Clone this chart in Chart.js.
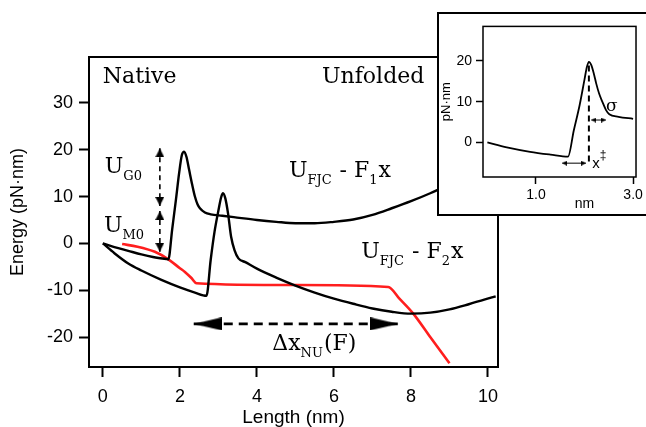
<!DOCTYPE html>
<html>
<head>
<meta charset="utf-8">
<script src="https://cdn.jsdelivr.net/npm/chart.js@4"></script>
<style>
  html, body { margin: 0; padding: 0; background: #fff; overflow: hidden; }
  #wrap { position: relative; width: 646px; height: 427px; }
  #main { position: absolute; left: 0; top: 0; }
  #insetBox { position: absolute; left: 437px; top: 12px; width: 220px; height: 200px;
              border: 2px solid #000; background: #fff; }
  #inset { position: absolute; left: 0; top: 0; }
</style>
</head>
<body>
<div id="wrap">
  <canvas id="main" width="646" height="427"></canvas>
  <div id="insetBox"><canvas id="inset" width="207" height="200"></canvas></div>
</div>
<script>
// main panel: energy landscapes (x in nm, y in pN·nm)
const f1X = [0, 0.3, 0.66, 1.0, 1.3, 1.65, 1.70, 1.80, 1.90, 1.98, 2.05, 2.11, 2.17, 2.24, 2.32, 2.39, 2.46, 2.52, 2.65, 2.8, 3.1, 3.4, 4.0, 4.5, 5.0, 5.5, 6.0, 6.5, 7.0, 7.5, 8.0, 8.5, 9.0, 9.5, 10.0];
const f1Y = [0, -0.8, -1.6, -2.35, -2.9, -3.35, -3.4, 3.0, 9.5, 15.0, 18.8, 19.6, 18.5, 15.7, 12.5, 10.0, 8.3, 7.5, 6.6, 6.2, 5.9, 5.6, 5.0, 4.6, 4.3, 4.3, 4.6, 5.1, 6.1, 7.5, 9.0, 10.7, 12.6, 14.6, 16.8];

const f2X = [0, 0.3, 0.66, 1.0, 1.52, 2.0, 2.39, 2.69, 2.80, 2.90, 3.00, 3.07, 3.12, 3.18, 3.25, 3.33, 3.42, 3.52, 3.7, 4.0, 4.5, 5.0, 5.5, 6.0, 6.5, 7.0, 7.5, 8.0, 8.5, 9.0, 9.5, 10.2];
const f2Y = [0, -2.1, -4.3, -5.8, -7.8, -9.4, -10.5, -11.2, -3.5, 2.5, 7.0, 9.8, 10.7, 9.6, 6.4, 1.4, -1.5, -3.2, -4.0, -5.4, -7.3, -9.0, -10.5, -11.8, -12.9, -13.9, -14.6, -15.0, -14.8, -14.1, -13.0, -11.3];

const redX = [0.5, 0.9, 1.35, 1.70, 2.0, 2.13, 2.3, 2.43, 5.0, 7.41, 7.7, 8.06, 8.5, 9.0];
const redY = [-0.15, -0.7, -1.8, -3.4, -5.3, -6.1, -7.4, -8.5, -8.9, -9.3, -11.8, -15.0, -20.0, -25.6];

const uArrowX = 1.48;
const uG0ArrowY = [20.3, 8.0];
const uM0ArrowY = [6.9, -1.8];
const dxArrowX = [2.36, 7.67];
const dxArrowY = -17.2;

const xTicks = [0, 2, 4, 6, 8, 10];
const yTicks = [-20, -10, 0, 10, 20, 30];

// inset: single barrier
const insX = [0, 0.4, 0.88, 1.3, 1.66, 1.78, 1.90, 2.0, 2.05, 2.09, 2.14, 2.20, 2.24, 2.30, 2.37, 2.44, 2.51, 2.7, 3.0];
const insY = [0, -1.2, -2.3, -3.0, -3.5, 3.0, 9.2, 15.5, 18.6, 19.8, 19.0, 16.5, 14.5, 12.0, 9.9, 8.0, 6.9, 6.3, 5.8];
const tsX = 2.09;
const tsDashY = [18.9, -5.3];
const xtsArrowX = [1.54, 2.03];
const xtsArrowY = -5.1;
const sigArrowX = [2.14, 2.44];
const sigArrowY = 5.5;

const insXTicks = [1.0, 3.0];
const insYTicks = [0, 10, 20];

const SANS = "'Liberation Sans', Arial, sans-serif";
const SERIF = "'DejaVu Serif', serif";

const pts = (xs, ys) => xs.map((x, i) => ({ x: x, y: Array.isArray(ys) ? ys[i] : ys }));

// arrow head image: tip at the image centre, body behind it
function arrowHead(len, wid) {
  const c = document.createElement("canvas");
  c.width = wid;
  c.height = len * 2;
  const g = c.getContext("2d");
  g.fillStyle = "#000";
  g.beginPath();
  g.moveTo(wid / 2, len);
  g.lineTo(wid, len * 2);
  g.lineTo(0, len * 2);
  g.closePath();
  g.fill();
  return c;
}
const bigHead = arrowHead(28, 13);
const midHead = arrowHead(9, 9);
const tinyHead = arrowHead(5, 5);

// text with sub/superscripts, drawn at data coordinates
function drawParts(ctx, parts, x, y, o) {
  let cx = x;
  for (const [t, kind] of parts) {
    if (kind === "sub") {
      ctx.font = o.subSize + "px " + o.family;
      ctx.fillText(t, cx, y + o.subDrop);
    } else if (kind === "sup") {
      ctx.font = o.subSize + "px " + o.family;
      ctx.fillText(t, cx, y - o.supRise);
    } else {
      ctx.font = o.size + "px " + o.family;
      ctx.fillText(t, cx, y);
    }
    cx += ctx.measureText(t).width + (kind ? 1 : 0);
  }
}

const notesPlugin = {
  id: "notes",
  afterDraw(chart, args, opts) {
    const { ctx, chartArea: a, scales } = chart;
    ctx.save();
    ctx.strokeStyle = "#000";
    ctx.lineWidth = opts.frame;
    ctx.strokeRect(a.left, a.top, a.right - a.left, a.bottom - a.top);
    ctx.fillStyle = "#000";
    ctx.textBaseline = "alphabetic";
    for (const n of opts.notes) {
      ctx.textAlign = n.align || "left";
      drawParts(ctx, n.parts, scales.x.getPixelForValue(n.x), scales.y.getPixelForValue(n.y), n.style);
    }
    ctx.restore();
  }
};

const bigText = { family: SERIF, size: 22, subSize: 13, subDrop: 7 };

const fixTicks = (vals) => (s) => { s.ticks = vals.map(v => ({ value: v })); };

const axisCommon = (size, tickLen, tickW, pad) => ({
  type: "linear",
  border: { display: false },
  grid: { drawOnChartArea: false, drawTicks: true, tickLength: tickLen, tickWidth: tickW, tickColor: "#000" },
  ticks: { color: "#000", font: { family: SANS, size: size }, padding: pad }
});

new Chart(document.getElementById("main"), {
  type: "line",
  data: {
    datasets: [
      { data: pts(f1X, f1Y), borderColor: "#000", borderWidth: 2.4, pointRadius: 0, cubicInterpolationMode: "monotone" },
      { data: pts(f2X, f2Y), borderColor: "#000", borderWidth: 2.4, pointRadius: 0, cubicInterpolationMode: "monotone" },
      { data: pts(redX, redY), borderColor: "rgb(255,30,30)", borderWidth: 2.6, pointRadius: 0, cubicInterpolationMode: "monotone" },
      { data: pts([uArrowX, uArrowX], uG0ArrowY), borderColor: "#000", borderWidth: 1.6, borderDash: [5, 4],
        pointRadius: 3, pointStyle: midHead, pointRotation: [0, 180] },
      { data: pts([uArrowX, uArrowX], uM0ArrowY), borderColor: "#000", borderWidth: 1.6, borderDash: [5, 4],
        pointRadius: 3, pointStyle: midHead, pointRotation: [0, 180] },
      { data: pts(dxArrowX, dxArrowY), borderColor: "#000", borderWidth: 2.8, borderDash: [9, 6],
        pointRadius: 3, pointStyle: bigHead, pointRotation: [270, 90] }
    ]
  },
  options: {
    responsive: false,
    animation: false,
    events: [],
    layout: { padding: { left: 0, top: 57, right: 148, bottom: 0 } },
    plugins: {
      legend: { display: false },
      tooltip: { enabled: false },
      notes: {
        frame: 2,
        notes: [
          { x: 0.0, y: 34.2, parts: [["Native"]], style: bigText },
          { x: 5.69, y: 34.2, parts: [["Unfolded"]], style: bigText },
          { x: 0.05, y: 15.0, parts: [["U"], ["G0", "sub"]], style: bigText },
          { x: 0.03, y: 2.5, parts: [["U"], ["M0", "sub"]], style: bigText },
          { x: 4.83, y: 14.2, parts: [["U"], ["FJC", "sub"], [" - F"], ["1", "sub"], ["x"]], style: bigText },
          { x: 6.71, y: -3.2, parts: [["U"], ["FJC", "sub"], [" - F"], ["2", "sub"], ["x"]], style: bigText },
          { x: 4.40, y: -22.8, parts: [["Δx"], ["NU", "sub"], ["(F)"]], style: bigText }
        ]
      }
    },
    scales: {
      x: Object.assign(axisCommon(18, 10, 2, 9), {
        min: -0.36, max: 10.26,
        afterFit: (s) => { s.height = 60; },
        afterBuildTicks: fixTicks(xTicks),
        title: { display: true, text: "Length (nm)", color: "#000", font: { family: SANS, size: 19, lineHeight: 1 }, padding: 0 }
      }),
      y: Object.assign(axisCommon(18, 10, 2, 6), {
        min: -26.4, max: 39.8,
        afterFit: (s) => { s.width = 89; },
        afterBuildTicks: fixTicks(yTicks),
        title: { display: true, text: "Energy (pN·nm)", color: "#000", font: { family: SANS, size: 18, lineHeight: 1.2 }, padding: { top: 7 } }
      })
    }
  },
  plugins: [notesPlugin]
});

const insText = { family: SANS, size: 15, subSize: 12, supRise: 9 };
const sigText = { family: SERIF, size: 17 };

new Chart(document.getElementById("inset"), {
  type: "line",
  data: {
    datasets: [
      { data: pts(insX, insY), borderColor: "#000", borderWidth: 1.8, pointRadius: 0, cubicInterpolationMode: "monotone" },
      { data: pts([tsX, tsX], tsDashY), borderColor: "#000", borderWidth: 2, borderDash: [6, 4], pointRadius: 0 },
      { data: pts(xtsArrowX, xtsArrowY), borderColor: "#000", borderWidth: 1, pointRadius: 2, pointStyle: tinyHead, pointRotation: [270, 90] },
      { data: pts(sigArrowX, sigArrowY), borderColor: "#000", borderWidth: 1, pointRadius: 2, pointStyle: tinyHead, pointRotation: [270, 90] }
    ]
  },
  options: {
    responsive: false,
    animation: false,
    events: [],
    layout: { padding: { left: 0, top: 2, right: 9, bottom: 0 } },
    plugins: {
      legend: { display: false },
      tooltip: { enabled: false },
      notes: {
        frame: 1.5,
        notes: [
          { x: 2.16, y: -6.4, parts: [["x"], ["‡", "sup"]], style: insText },
          { x: 2.44, y: 7.7, parts: [["σ"]], style: sigText },
          { x: 2.0, y: -16.2, align: "center", parts: [["nm"]], style: { family: SANS, size: 14 } }
        ]
      }
    },
    scales: {
      x: Object.assign(axisCommon(14, 7, 1.5, 3), {
        min: -0.09, max: 3.06,
        afterFit: (s) => { s.height = 37; },
        afterBuildTicks: fixTicks(insXTicks),
        ticks: { color: "#000", font: { family: SANS, size: 14 }, padding: 3, callback: (v) => v.toFixed(1) }
      }),
      y: Object.assign(axisCommon(14, 7, 1.5, 4), {
        min: -8.5, max: 28.5,
        afterFit: (s) => { s.width = 44; },
        afterBuildTicks: fixTicks(insYTicks),
        title: { display: true, text: "pN·nm", color: "#000", font: { family: SANS, size: 13, lineHeight: 1 }, padding: { top: 1 } }
      })
    }
  },
  plugins: [notesPlugin]
});
</script>
</body>
</html>
